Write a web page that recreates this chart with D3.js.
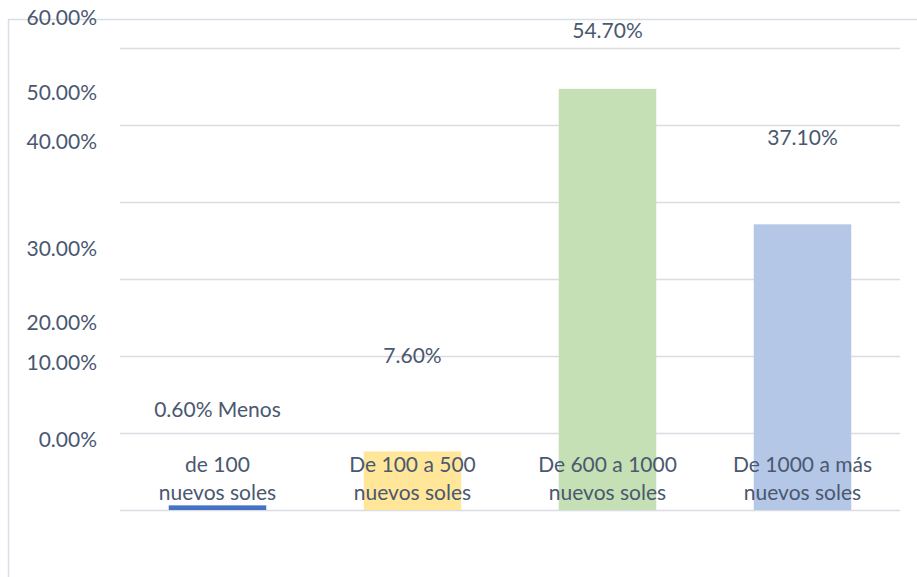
<!DOCTYPE html>
<html>
<head>
<meta charset="utf-8">
<script src="https://cdn.jsdelivr.net/npm/d3@7"></script>
<style>
  body { margin: 0; background: #fff; }
  text { font-family: Lato, "Open Sans", sans-serif; fill: #4A5870; }
</style>
</head>
<body>
<div id="chart"></div>
<script>
// categories and values (percent)
var categories = ["de 100|nuevos soles", "De 100 a 500|nuevos soles",
                  "De 600 a 1000|nuevos soles", "De 1000 a más|nuevos soles"];
var values = [0.6, 7.6, 54.7, 37.1];
var valueLabels = ["0.60% Menos", "7.60%", "54.70%", "37.10%"];
var barColors = ["#4472C4", "#FFE699", "#C5E0B4", "#B4C7E7"];

// y ticks and where their labels sit in the picture (value units)
var ticks = [0, 10, 20, 30, 40, 50, 60];
var tickLabels = ["0.00%", "10.00%", "20.00%", "30.00%", "40.00%", "50.00%", "60.00%"];
var tickLabelAt = [9.2, 19.1, 24.3, 34.0, 47.8, 54.2, 64.0];
// where the value labels sit (value units)
var valueLabelAt = [13.0, 20.1, 62.3, 48.3];

var W = 917, H = 577;
var plot = {left: 120, right: 900, top: 48, bottom: 510};
var fontSize = "21px";

var svg = d3.select("#chart").append("svg")
            .attr("width", W)
            .attr("height", H);

var x = d3.scaleBand()
          .domain(categories)
          .range([plot.left, plot.right])
          .paddingInner(0.5)
          .paddingOuter(0.25);

var y = d3.scaleLinear()
          .domain([0, 60])
          .range([plot.bottom, plot.top]);

// outer frame (left + top)
svg.append("path")
   .attr("d", "M8.5," + H + "V19.5H" + W)
   .attr("fill", "none")
   .attr("stroke", "#D9DDE5")
   .attr("stroke-width", 1.5);

// gridlines
var yAxis = d3.axisLeft(y)
              .tickValues(ticks)
              .tickSize(-(plot.right - plot.left))
              .tickFormat("");
var yGroup = svg.append("g")
                .attr("transform", "translate(" + plot.left + ",0)")
                .call(yAxis);
yGroup.select(".domain").remove();
yGroup.selectAll(".tick line")
      .attr("stroke", "#D9DCE3")
      .attr("stroke-width", 1.5);

// tick labels
svg.append("g").selectAll("text")
   .data(ticks)
   .enter().append("text")
   .attr("x", 97)
   .attr("y", function(d, i) { return y(tickLabelAt[i]); })
   .attr("dy", "0.35em")
   .attr("text-anchor", "end")
   .attr("font-size", fontSize)
   .text(function(d, i) { return tickLabels[i]; });

// bars
svg.append("g").selectAll("rect")
   .data(values)
   .enter().append("rect")
   .attr("x", function(d, i) { return x(categories[i]); })
   .attr("width", x.bandwidth())
   .attr("y", function(d) { return y(d); })
   .attr("height", function(d) { return y(0) - y(d); })
   .attr("fill", function(d, i) { return barColors[i]; });

// value labels
svg.append("g").selectAll("text")
   .data(values)
   .enter().append("text")
   .attr("x", function(d, i) { return x(categories[i]) + x.bandwidth() / 2; })
   .attr("y", function(d, i) { return y(valueLabelAt[i]); })
   .attr("dy", "0.35em")
   .attr("text-anchor", "middle")
   .attr("font-size", fontSize)
   .text(function(d, i) { return valueLabels[i]; });

// category labels (two lines)
var catText = svg.append("g").selectAll("text")
   .data(categories)
   .enter().append("text")
   .attr("text-anchor", "middle")
   .attr("font-size", fontSize)
   .attr("y", 472)
   .attr("dy", "0.35em");
catText.selectAll("tspan")
   .data(function(d) { return d.split("|").map(function(s) { return {s: s, c: d}; }); })
   .enter().append("tspan")
   .attr("x", function(d) { return x(d.c) + x.bandwidth() / 2; })
   .attr("dy", function(d, i) { return i ? 28 : 0; })
   .text(function(d) { return d.s; });
</script>
</body>
</html>
